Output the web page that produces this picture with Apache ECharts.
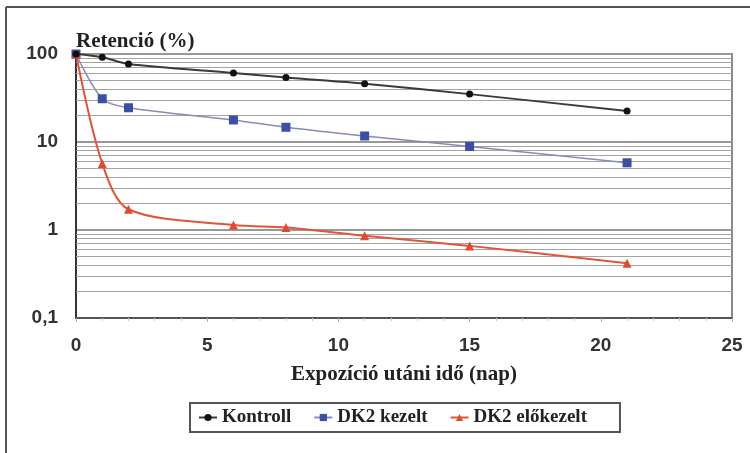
<!DOCTYPE html>
<html>
<head>
<meta charset="utf-8">
<script src="https://cdn.jsdelivr.net/npm/echarts@6/dist/echarts.min.js"></script>
<style>
  html, body { margin: 0; padding: 0; background: #fff; }
  #chart { width: 750px; height: 453px; }
</style>
</head>
<body>
<div id="chart"></div>
<script>
// napok (x tengely)
var days = [0, 1, 2, 6, 8, 11, 15, 21];
// retenció értékek (%)
var kontroll = [100, 92, 77, 61, 54, 46, 35, 22.5];
var dk2Kezelt = [100, 31, 24.5, 17.8, 14.7, 11.7, 8.9, 5.8];
var dk2Elokezelt = [100, 5.7, 1.72, 1.14, 1.07, 0.86, 0.66, 0.42];
var seriesNames = ['Kontroll', 'DK2 kezelt', 'DK2 előkezelt'];
var yTickLabels = ['0,1', '1', '10', '100'];
// log rács segédvonalai
var minorGrid = [0.2, 0.3, 0.4, 0.5, 0.6, 0.7, 0.8, 0.9, 2, 3, 4, 5, 6, 7, 8, 9, 20, 30, 40, 50, 60, 70, 80, 90];

var serif = '"Liberation Serif", "DejaVu Serif", serif';
var sans = '"Liberation Sans", Arial, sans-serif';

function pairs(ys) {
  return days.map(function (d, i) { return [d, ys[i]]; });
}

var myChart = echarts.init(document.getElementById('chart'));
myChart.setOption({
  animation: false,
  backgroundColor: '#fff',
  title: {
    text: 'Retenció (%)',
    left: 76,
    top: 31,
    padding: 0,
    textStyle: { fontFamily: serif, fontWeight: 'bold', fontSize: 21, color: '#222' }
  },
  graphic: [
    { type: 'line', shape: { x1: 6, y1: 7, x2: 6, y2: 453 }, style: { stroke: '#555', lineWidth: 2 } },
    { type: 'line', shape: { x1: 6, y1: 7, x2: 750, y2: 7 }, style: { stroke: '#555', lineWidth: 2 } }
  ],
  legend: {
    data: seriesNames,
    left: 190,
    top: 403,
    padding: [5, 33, 5, 8],
    itemGap: 22,
    itemWidth: 18,
    itemHeight: 9,
    borderColor: '#555',
    borderWidth: 2,
    textStyle: { fontFamily: serif, fontWeight: 'bold', fontSize: 19, color: '#222' }
  },
  grid: {
    left: 76, right: 18, top: 54, bottom: 135,
    show: true,
    borderColor: '#8a8a8a',
    borderWidth: 2
  },
  xAxis: {
    type: 'value',
    min: 0, max: 25, interval: 5,
    name: 'Expozíció utáni idő (nap)',
    nameLocation: 'middle',
    nameGap: 46,
    nameTextStyle: { fontFamily: serif, fontWeight: 'bold', fontSize: 21, color: '#222' },
    axisLine: { lineStyle: { color: '#555', width: 2 } },
    axisTick: { show: true, length: 4, lineStyle: { color: '#aaa' } },
    minorTick: { show: true, splitNumber: 5, length: 3, lineStyle: { color: '#ccc' } },
    splitLine: { show: false },
    axisLabel: { margin: 18, fontFamily: sans, fontWeight: 'bold', fontSize: 19, color: '#333' }
  },
  yAxis: {
    type: 'log',
    logBase: 10,
    min: 0.1, max: 100,
    axisLine: { show: true, lineStyle: { color: '#333', width: 2 } },
    axisTick: { show: false },
    splitLine: { show: true, lineStyle: { color: '#999', width: 2 } },
    axisLabel: {
      margin: 18,
      padding: [4, 0, 0, 0],
      fontFamily: sans, fontWeight: 'bold', fontSize: 19, color: '#333',
      formatter: function (v) {
        var i = Math.round(Math.log10(v)) + 1;
        return yTickLabels[i] || '';
      }
    }
  },
  series: [
    {
      name: 'grid',
      type: 'line',
      data: [],
      silent: true,
      z: 1,
      markLine: {
        silent: true,
        z: 1,
        symbol: 'none',
        label: { show: false },
        lineStyle: { color: '#a4a4a4', width: 1, type: 'solid' },
        data: minorGrid.map(function (v) { return { yAxis: v }; })
      }
    },
    {
      name: seriesNames[0],
      type: 'line',
      data: pairs(kontroll),
      smooth: 0.3,
      symbol: 'circle',
      symbolSize: 7,
      z: 4,
      itemStyle: { color: '#111' },
      lineStyle: { color: '#3a3a3a', width: 2 }
    },
    {
      name: seriesNames[1],
      type: 'line',
      data: pairs(dk2Kezelt),
      smooth: 0.3,
      symbol: 'rect',
      symbolSize: 9,
      z: 3,
      itemStyle: { color: '#3b4ea8' },
      lineStyle: { color: '#8a8ab8', width: 1.5 }
    },
    {
      name: seriesNames[2],
      type: 'line',
      data: pairs(dk2Elokezelt),
      smooth: 0.3,
      symbol: 'triangle',
      symbolSize: 9,
      z: 3,
      itemStyle: { color: '#e04a2e' },
      lineStyle: { color: '#e2553a', width: 2 }
    }
  ]
});
</script>
</body>
</html>
